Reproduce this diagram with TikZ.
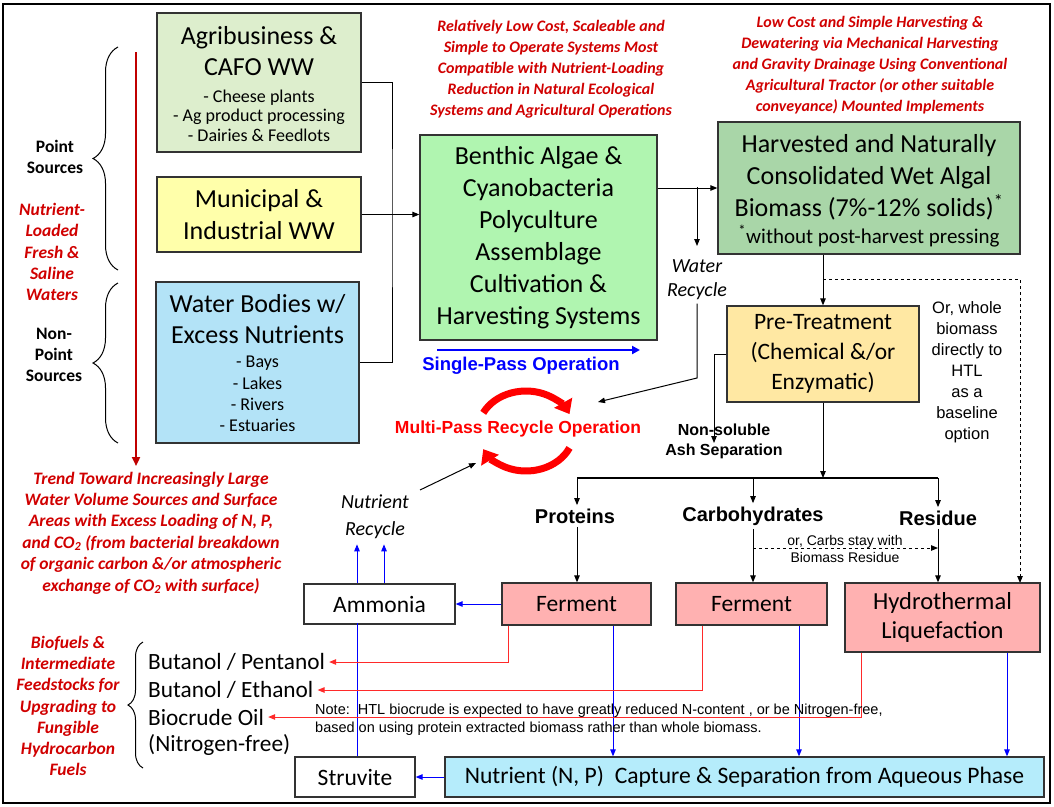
\documentclass[tikz,border=0pt]{standalone}
\usepackage{fontspec}
\setmainfont{Carlito}
\newfontfamily\arialfont{Liberation Sans}
\usepackage{tikz}
\usetikzlibrary{arrows.meta, calc, positioning, decorations.pathreplacing}
\definecolor{agrigreen}{HTML}{DDEECD}
\definecolor{muniyellow}{HTML}{FFFFAA}
\definecolor{waterblue}{HTML}{B3E3F7}
\definecolor{algagreen}{HTML}{B0F5B0}
\definecolor{harvgreen}{HTML}{A9D6A8}
\definecolor{pretan}{HTML}{FFE8A3}
\definecolor{fermpink}{HTML}{FFB1B1}
\definecolor{capblue}{HTML}{B5ECFB}
\definecolor{darkred}{HTML}{C00000}
\definecolor{notered}{HTML}{D00000}
\definecolor{linered}{HTML}{FF2A2A}

\begin{document}
\begin{tikzpicture}[x=1pt, y=-1pt, >={Triangle[length=7pt,width=5.5pt]},
    box/.style={draw=black!80, line width=1.3pt, align=center, inner sep=0pt},
    big/.style={align=center, font=\fontsize{26}{31.5}\selectfont},
    listtxt/.style={align=center, font=\fontsize{18}{#1}\selectfont},
    redtxt/.style={align=center, text=notered, font=\fontsize{16}{21}\selectfont\bfseries\itshape},
    sidetxt/.style={align=center, font=\fontsize{17.5}{21.3}\selectfont\bfseries},
    labtxt/.style={align=center, font=\arialfont\fontsize{16}{20}\selectfont\bfseries},
    fractxt/.style={font=\arialfont\fontsize{20}{24}\selectfont\bfseries},
    outtxt/.style={anchor=west, inner sep=4pt, font=\fontsize{23.3}{28}\selectfont},
    bluearr/.style={->, blue, line width=1pt},
    redarr/.style={->, linered, line width=1pt},
    blkarr/.style={->, line width=1pt},
    recyc/.style={red, line width=7pt, -{Triangle[length=13pt,width=20pt]}},
    brace/.style={decorate, line width=1pt, decoration={brace, amplitude=#1}}]

  \useasboundingbox (0,0) rectangle (1054,806);
  \draw[line width=2pt] (3,4) rectangle (1050,803);

  % sources
  \node[box, fill=agrigreen, minimum width=204pt, minimum height=139pt] (agri) at (259,82.5) {};
  \node[big] (agrititle) at (259,51) {Agribusiness \&\\CAFO WW};
  \node[listtxt=19.5] (agrilist) at (259,115.5) {- Cheese plants\\- Ag product processing\\- Dairies \& Feedlots};
  \node[box, fill=muniyellow, minimum width=204pt, minimum height=75pt, big] (muni) at (259,214.5)
    {Municipal \&\\Industrial WW};
  \node[box, fill=waterblue, minimum width=203pt, minimum height=161pt] (water) at (257.5,362.5) {};
  \node[big] (watertitle) at (257.5,319) {Water Bodies w/\\Excess Nutrients};
  \node[listtxt=21.3] (waterlist) at (257.5,394) {- Bays\\- Lakes\\- Rivers\\- Estuaries};

  \draw[brace=25pt] (118,270) -- (118,47);
  \draw[brace=25pt] (118,443) -- (118,283);
  \node[sidetxt] (point) at (55,157) {Point\\Sources};
  \node[sidetxt] (nonpoint) at (54,355) {Non-\\Point\\Sources};
  \node[redtxt, font=\fontsize{17.5}{21.3}\selectfont\bfseries\itshape] (loaded) at (52,252) {Nutrient-\\Loaded\\Fresh \&\\Saline\\Waters};
  \draw[->, darkred, line width=2.5pt, >={Triangle[length=9pt,width=8pt]}] (136,52) -- (136,466);
  \node[redtxt, font=\fontsize{17.5}{21.4}\selectfont\bfseries\itshape] (trend) at (151,533) {Trend Toward Increasingly Large\\Water Volume Sources and Surface\\Areas with Excess Loading of N, P,\\and CO\textsubscript{2} (from bacterial breakdown\\of organic carbon \&/or atmospheric\\exchange of CO\textsubscript{2} with surface)};

  % cultivation and harvest
  \node[redtxt] (lowcost) at (551,69) {Relatively Low Cost, Scaleable and\\Simple to Operate Systems Most\\Compatible with Nutrient-Loading\\Reduction in Natural Ecological\\Systems and Agricultural Operations};
  \node[redtxt] (harvnote) at (870,65) {Low Cost and Simple Harvesting \&\\Dewatering via Mechanical Harvesting\\and Gravity Drainage Using Conventional\\Agricultural Tractor (or other suitable\\conveyance) Mounted Implements};
  \node[box, fill=algagreen, minimum width=237pt, minimum height=205pt, big, font=\fontsize{26}{32}\selectfont] (benthic) at (538.5,237.5)
    {Benthic Algae \&\\Cyanobacteria\\Polyculture\\Assemblage\\Cultivation \&\\Harvesting Systems};
  \node[box, fill=harvgreen, minimum width=302pt, minimum height=132pt] (harv) at (869,188) {};
  \node[big, font=\fontsize{26}{32}\selectfont] (harvtitle) at (869,177)
    {Harvested and Naturally\\Consolidated Wet Algal\\Biomass (7\%-12\% solids)\textsuperscript{*}};
  \node[font=\fontsize{21}{25}\selectfont] (harvfoot) at (869,236) {\textsuperscript{*}without post-harvest pressing};

  \coordinate (merge) at (392,214);
  \draw[line width=1pt] (agri.east) -| (merge) |- (water.east);
  \draw[blkarr] (muni.east) -- (benthic.west |- muni.east);
  \draw[blkarr] (benthic.east |- harv.west) -- (harv.west);
  \coordinate (wrsplit) at (697,187);
  \coordinate (wrend) at (697,246);
  \draw[blkarr] (wrsplit) -- (wrend);
  \node[align=center, font=\fontsize{20}{24}\selectfont\itshape] (wrtxt) at (697,280) {Water\\Recycle};

  \coordinate (sp1) at (437,350);
  \coordinate (sp2) at (640,350);
  \draw[->, blue, line width=2.5pt, >={Triangle[length=8pt,width=8pt]}] (sp1) -- (sp2);
  \node[text=blue, font=\arialfont\fontsize{18.5}{22}\selectfont\bfseries] (single) at (521,366) {Single-Pass Operation};

  \node[text=red, font=\arialfont\fontsize{17.5}{20}\selectfont\bfseries] (multi) at (518,429) {Multi-Pass Recycle Operation};
  \coordinate (rc) at (526,431);
  \draw[recyc] (rc) ++(207:48 and 40) arc[start angle=207, end angle=335, x radius=48, y radius=40];
  \draw[recyc] (rc) ++(25:48 and 40) arc[start angle=25, end angle=153, x radius=48, y radius=40];

  \coordinate (wrbend) at (697,378);
  \coordinate (wrtip) at (598,402);
  \draw[blkarr] (wrtxt.south) -- (wrbend) -- (wrtip);

  \node[align=center, font=\fontsize{20}{27}\selectfont\itshape] (nrtxt) at (375,517) {Nutrient\\Recycle};
  \coordinate (nr1) at (420,490);
  \coordinate (nr2) at (476,463);
  \draw[blkarr] (nr1) -- (nr2);

  % pre-treatment and fractions
  \node[box, fill=pretan, minimum width=192pt, minimum height=96pt, font=\fontsize{23.5}{30}\selectfont] (pret) at (823,354)
    {Pre-Treatment\\(Chemical \&/or\\Enzymatic)};
  \draw[blkarr] (pret.north |- harv.south) -- (pret.north);
  \coordinate (dash1) at (823,279);
  \coordinate (dash2) at (1020,583);
  \draw[->, dashed, line width=1pt] (dash1) -| (dash2);
  \node[align=center, font=\arialfont\fontsize{16.5}{21}\selectfont] (whole) at (967,372)
    {Or, whole\\biomass\\directly to\\HTL\\as a\\baseline\\option};

  \coordinate (ashpt) at (714,443);
  \draw[blkarr] (pret.west) -| (ashpt);
  \node[labtxt] (ash) at (724,441) {Non-soluble\\Ash Separation};

  \coordinate (barL) at (577,478);
  \coordinate (barM) at (823,478);
  \coordinate (barR) at (938,478);
  \draw[blkarr] (pret.south) -- (barM);
  \draw[line width=2.5pt] (barL) -- (barR);

  \node[fractxt] (prot) at (575,516) {Proteins};
  \node[fractxt] (carb) at (753,516) {Carbohydrates};
  \node[fractxt] (resid) at (938,518) {Residue};
  \draw[blkarr] (barL) -- (barL |- prot.north);
  \draw[blkarr] (barL -| carb.north) -- (carb.north);
  \draw[blkarr] (barR) -- (resid.north);

  % conversion
  \node[box, fill=fermpink, minimum width=149pt, minimum height=42pt, font=\fontsize{23.5}{28}\selectfont] (ferm1) at (576.5,604) {Ferment};
  \node[box, fill=fermpink, minimum width=151pt, minimum height=42pt, font=\fontsize{23.5}{28}\selectfont] (ferm2) at (751.5,604) {Ferment};
  \node[box, fill=fermpink, minimum width=195pt, minimum height=69pt, font=\fontsize{24.5}{29}\selectfont] (htl) at (942.5,617.5) {Hydrothermal\\Liquefaction};

  \draw[blkarr] (barL |- prot.south) -- (barL |- ferm1.north);
  \draw[blkarr] (carb.south) -- (carb.south |- ferm2.north);
  \draw[blkarr] (resid.south) -- (resid.south |- htl.north);
  \coordinate (cs1) at (753,548);
  \coordinate (cs2) at (938,548);
  \draw[->, dashed, line width=1pt] (cs1) -- (cs2);
  \node[align=center, font=\arialfont\fontsize{14}{17}\selectfont] (carbnote) at (845,549) {or, Carbs stay with\\Biomass Residue};

  \node[box, fill=white, minimum width=151pt, minimum height=40pt, font=\fontsize{23.5}{26}\selectfont] (amm) at (379.5,604) {Ammonia};
  \node[box, fill=white, minimum width=120pt, minimum height=40pt, font=\fontsize{23.5}{26}\selectfont] (struv) at (355,777) {Struvite};
  \node[box, fill=capblue, minimum width=599pt, minimum height=40pt, font=\fontsize{23.6}{28}\selectfont] (nutr) at (744.5,777)
    {Nutrient (N, P)\ \ Capture \& Separation from Aqueous Phase};

  % products
  \node[outtxt] (but1) at (144,662) {Butanol / Pentanol};
  \node[outtxt] (but2) at (144,690) {Butanol / Ethanol};
  \node[outtxt] (bio) at (144,717) {Biocrude Oil};
  \node[outtxt] (nfree) at (144,745) {(Nitrogen-free)};
  \draw[brace=15pt] (143,768) -- (143,642);
  \node[redtxt, font=\fontsize{17.5}{21.3}\selectfont\bfseries\itshape] (biofuels) at (68,706) {Biofuels \&\\Intermediate\\Feedstocks for\\Upgrading to\\Fungible\\Hydrocarbon\\Fuels};

  \draw[bluearr] (amm.north) ++(-22.5,0) -- ++(0,-39);
  \draw[bluearr] (amm.north) ++(4.5,0) -- ++(0,-39);
  \draw[blue, line width=1pt] (struv.north) ++(2,0) -- ++(0,-133);
  \draw[bluearr] (ferm1.west) -- (amm.east);
  \draw[bluearr] (nutr.west) -- (struv.east);
  \draw[bluearr] ([xshift=36.5pt]ferm1.south) -- ([xshift=36.5pt]ferm1.south |- nutr.north);
  \draw[bluearr] ([xshift=47.5pt]ferm2.south) -- ([xshift=47.5pt]ferm2.south |- nutr.north);
  \draw[bluearr] ([xshift=64.5pt]htl.south) -- ([xshift=64.5pt]htl.south |- nutr.north);

  \draw[redarr] ([xshift=-68.5pt]ferm1.south) |- (but1.east);
  \draw[redarr] ([xshift=-49.5pt]ferm2.south) |- (but2.east);
  \draw[redarr] ([xshift=-81.5pt]htl.south) |- (bio.east);

  \node[anchor=west, align=left, inner sep=0pt, font=\arialfont\fontsize{14.5}{18}\selectfont] (note) at (315,720)
    {Note:\ \ HTL biocrude is expected to have greatly reduced N-content , or be Nitrogen-free,\\based on using protein extracted biomass rather than whole biomass.};
\end{tikzpicture}
\end{document}
